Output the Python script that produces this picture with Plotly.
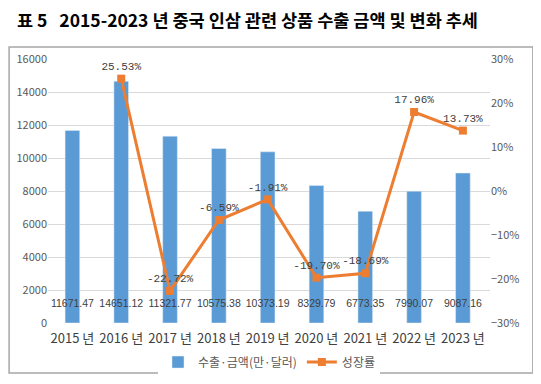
import plotly.graph_objects as go

years = ["2015 년", "2016 년", "2017 년", "2018 년", "2019 년", "2020 년", "2021 년", "2022 년", "2023 년"]
export_amount = [11671.47, 14651.12, 11321.77, 10575.38, 10373.19, 8329.79, 6773.35, 7990.07, 9087.16]
growth_years = years[1:]
growth_rate = [25.53, -22.72, -6.59, -1.91, -19.70, -18.69, 17.96, 13.73]

bar_labels = [f"{v:.2f}" for v in export_amount]
line_labels = [f"{v:.2f}%" for v in growth_rate]
bar_label_level = [1100] * len(years)

fig = go.Figure()
fig.add_trace(go.Bar(
    x=years, y=export_amount, name="수출·금액(만·달러)",
    marker_color="#5B9BD5", width=0.3,
    yaxis="y",
))
fig.add_trace(go.Scatter(
    x=growth_years, y=growth_rate, name="성장률", mode="lines+markers+text",
    line=dict(color="#ED7D31", width=3),
    marker=dict(symbol="square", size=8, color="#ED7D31"),
    text=line_labels, textposition="top center",
    textfont=dict(family="Liberation Mono", size=11, color="#404040"),
    yaxis="y2",
))
fig.add_trace(go.Scatter(
    x=years, y=bar_label_level, mode="text", text=bar_labels,
    textfont=dict(family="Liberation Sans", size=10.5, color="#404040"),
    showlegend=False, hoverinfo="skip", yaxis="y",
))

fig.update_layout(
    width=533, height=376,
    margin=dict(l=40, r=51, t=51, b=61, autoexpand=False),
    paper_bgcolor="white", plot_bgcolor="white",
    font=dict(family="Noto Sans CJK KR", color="#595959", size=12),
    title=dict(text="<b>표 5   2015-2023 년 중국 인삼 관련 상품 수출 금액 및 변화 추세</b>",
               x=0.017, xanchor="left", y=0.982, yanchor="top",
               font=dict(family="Noto Sans CJK KR", size=17.5, color="#000000")),
    xaxis=dict(showgrid=False, showline=False, ticks="", ticklabelstandoff=6,
               tickfont=dict(size=13, color="#404040")),
    yaxis=dict(range=[0, 16000], dtick=2000, showgrid=True, gridcolor="#D9D9D9",
               tickformat="d", zeroline=False, tickfont=dict(size=11, color="#595959"), ticks=""),
    yaxis2=dict(range=[-30, 30], dtick=10, overlaying="y", side="right",
                showgrid=False, zeroline=False, ticksuffix="%",
                tickfont=dict(size=11, color="#595959")),
    legend=dict(orientation="h", x=0.5, xanchor="center", y=-0.148, yanchor="middle",
                font=dict(size=12, color="#595959"), traceorder="normal"),
    shapes=[dict(type="rect", xref="paper", yref="paper",
                 x0=-0.088, x1=1.097, y0=-0.189, y1=1.045,
                 line=dict(color="#A6A6A6", width=1.5))],
)

fig.write_html("out.html")
